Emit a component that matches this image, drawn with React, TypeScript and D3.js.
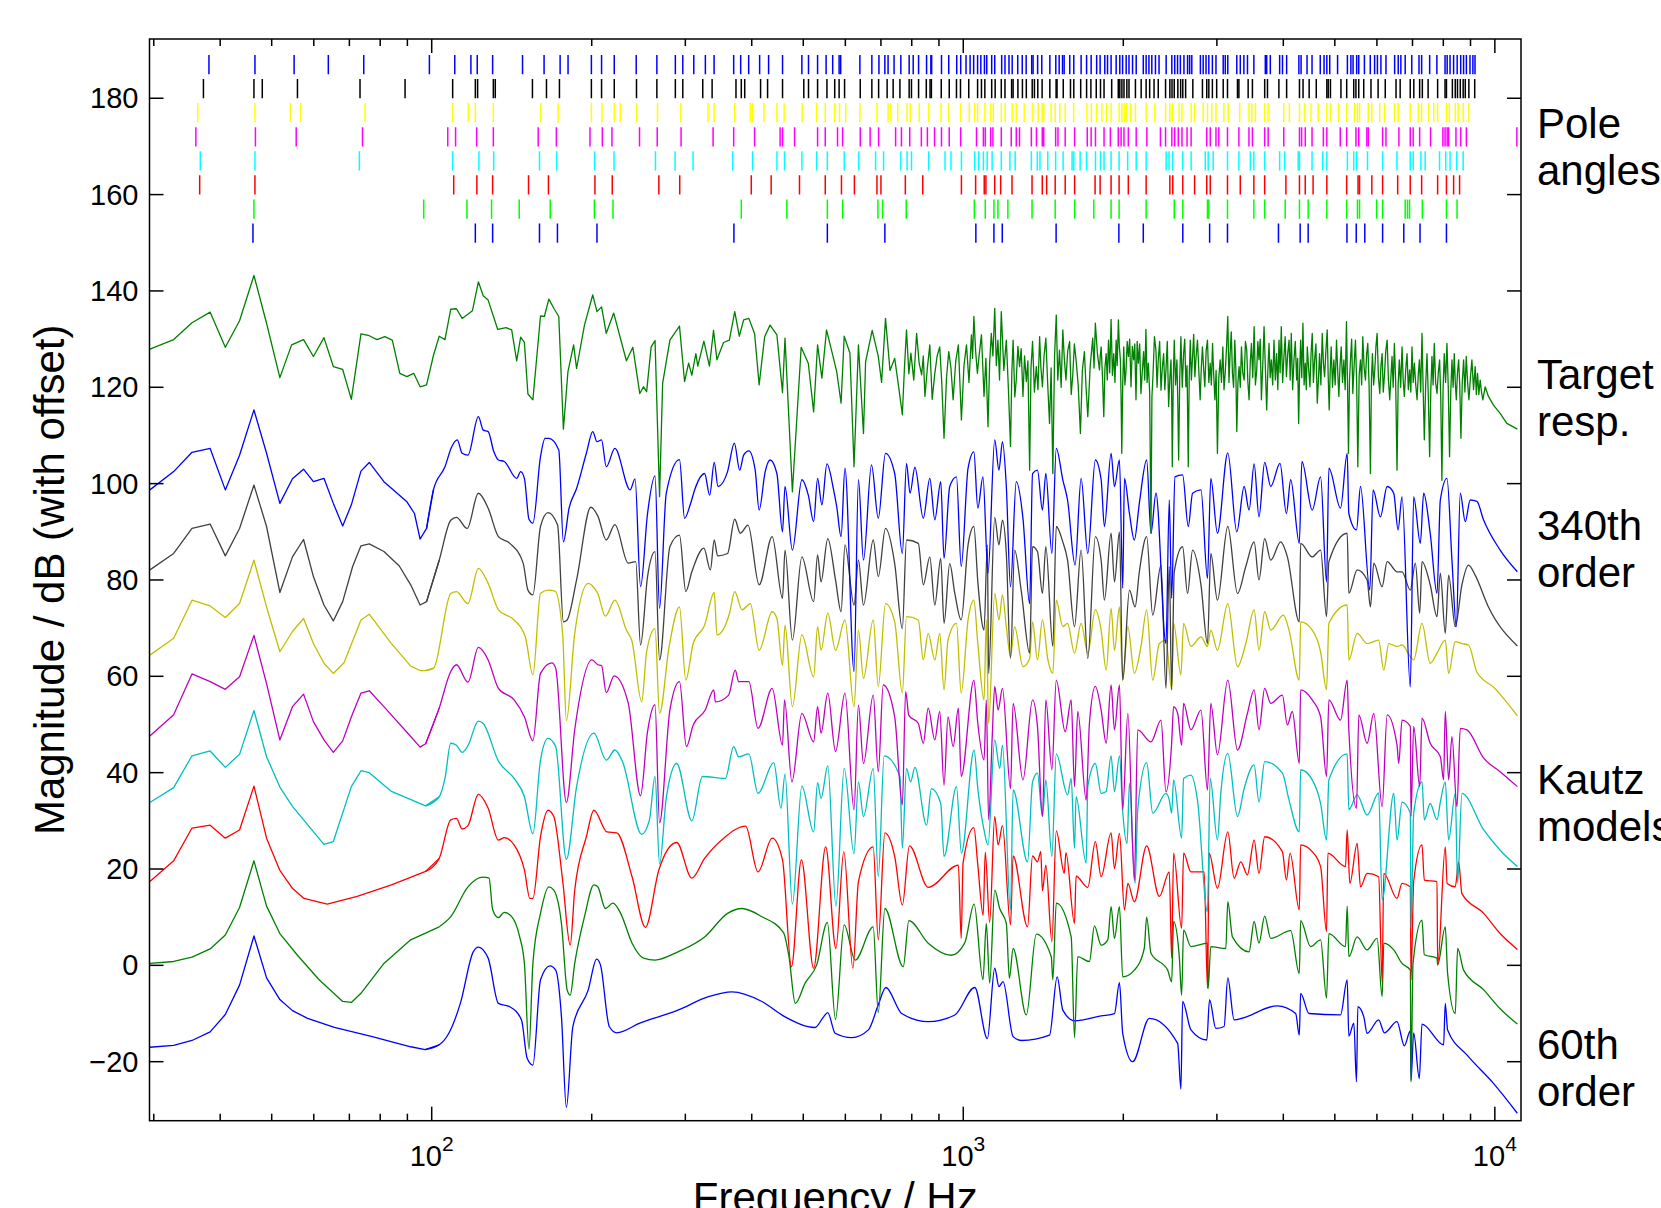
import React, { useEffect, useRef } from "react";
import * as d3 from "d3";

// pole angles in Hz, one row per model, 60th order first (bottom row)
const poles60 = [46.1, 120.8, 130.2, 159.5, 172.4, 204.6, 370.3, 555, 712, 1056, 1142, 1184, 1495, 1962, 2181, 2588, 2907, 3141, 3917, 4303, 4455, 5270, 5486, 5693, 6150, 6741, 7232, 8109];
const poles100 = [46.3, 96.6, 116.5, 129.6, 146.1, 167.1, 202.3, 219.3, 382.3, 465.7, 555, 593, 691, 705, 781, 1049, 1100, 1142, 1162, 1213, 1347, 1489, 1620, 1760, 1897, 1964, 2208, 2494, 2588, 2880, 2897, 3141, 3521, 3690, 4033, 4290, 4455, 4830, 5264, 5515, 5565, 5995, 6150, 6782, 6850, 6912, 7305, 8109, 8490];
const poles140 = [36.6, 46.5, 110, 121.6, 130.2, 152.1, 165.8, 202.8, 218.6, 267.5, 292.8, 399.2, 435.1, 491.9, 550, 590, 624, 688, 700, 778, 839, 992, 1055, 1095, 1103, 1146, 1176, 1235, 1347, 1408, 1435, 1489, 1555, 1620, 1770, 1809, 1897, 1964, 2044, 2208, 2447, 2478, 2588, 2724, 2871, 2915, 3141, 3320, 3521, 3690, 4045, 4290, 4399, 4551, 4830, 5264, 5529, 5565, 5869, 6150, 6565, 6932, 7283, 7805, 8109, 8365, 8584];
const poles180 = [36.7, 46.5, 73.1, 109.5, 122.7, 130.8, 159.5, 171.9, 202.5, 220.3, 263.6, 287, 310.2, 368.3, 401.6, 446.1, 461.1, 497, 530, 555, 597, 636, 684, 708, 763, 784, 799, 861, 924, 948, 992, 1051, 1069, 1091, 1109, 1133, 1179, 1224, 1252, 1343, 1378, 1394, 1442, 1492, 1541, 1602, 1614, 1659, 1706, 1773, 1812, 1840, 1897, 1964, 2038, 2115, 2208, 2408, 2438, 2478, 2588, 2683, 2853, 2889, 2952, 3141, 3300, 3468, 3521, 3690, 3937, 4023, 4266, 4290, 4530, 4744, 4830, 5280, 5427, 5496, 5760, 6150, 6545, 6932, 7020, 7260, 7395, 7870, 8085, 8236, 8480, 8718];
const poles220 = [36.0, 46.6, 55.6, 74.1, 107.2, 110.9, 121.5, 130.6, 158.6, 171.6, 198.5, 209.4, 218.3, 246, 265.6, 294.5, 338.3, 369.9, 405, 452.3, 457.1, 481.6, 532, 550, 580, 593, 640, 668, 693, 746, 765, 793, 834, 856, 883, 910, 941, 989, 1059, 1091, 1100, 1126, 1137, 1179, 1231, 1258, 1276, 1343, 1373, 1408, 1417, 1492, 1507, 1555, 1620, 1711, 1740, 1773, 1840, 1891, 1957, 1981, 2006, 2044, 2115, 2215, 2349, 2402, 2468, 2499, 2538, 2579, 2636, 2683, 2871, 2915, 2988, 3025, 3141, 3300, 3447, 3499, 3690, 3746, 4008, 4290, 4330, 4399, 4530, 4758, 4830, 5119, 5264, 5479, 5546, 5744, 5779, 6150, 6240, 6600, 6932, 7020, 7220, 7570, 7985, 8060, 8134, 8186, 8450, 8625, 8840, 11000];
const poles260 = [36.3, 46.5, 54.2, 56.7, 74.9, 109.5, 117.2, 120.8, 130.6, 160.4, 172.9, 199.7, 209.1, 220.5, 226.3, 242.8, 265.9, 294.1, 331.1, 339.8, 371.5, 397.5, 401.6, 421.7, 446.1, 460.3, 497.6, 530, 550, 573, 585, 601, 639, 688, 722, 731, 753, 784, 795, 826, 861, 908, 938, 989, 1026, 1051, 1064, 1098, 1126, 1139, 1179, 1199, 1236, 1258, 1302, 1351, 1383, 1408, 1417, 1463, 1489, 1519, 1555, 1613, 1709, 1742, 1782, 1823, 1860, 1897, 1964, 1988, 2013, 2031, 2063, 2108, 2208, 2292, 2402, 2447, 2478, 2547, 2579, 2683, 2724, 2827, 2880, 2934, 2988, 3092, 3150, 3311, 3447, 3491, 3545, 3690, 3746, 4008, 4107, 4290, 4385, 4510, 4653, 4830, 4906, 5078, 5264, 5445, 5515, 5565, 5779, 5869, 6071, 6203, 6479, 6580, 6932, 7175, 7283, 7510, 7675, 7805, 8109, 8212, 8425, 8531, 8718, 8936];
const poles300 = [37.2, 46.3, 48.0, 55.9, 73.3, 89.1, 109.5, 120.8, 122, 130.6, 131.7, 154.7, 164.4, 173.9, 199.7, 208.7, 220.5, 242.8, 265.2, 287.3, 296.7, 323.5, 336.9, 373.6, 382.3, 388, 415.6, 428.4, 457.1, 501.2, 511.5, 532, 554, 573, 584, 598, 640, 673, 693, 719, 738, 760, 791, 799, 824, 852, 866, 871, 909, 941, 971, 988, 1024, 1064, 1082, 1098, 1131, 1148, 1179, 1198, 1233, 1241, 1267, 1292, 1314, 1348, 1361, 1381, 1407, 1455, 1495, 1501, 1542, 1591, 1614, 1663, 1706, 1738, 1779, 1812, 1840, 1902, 1957, 1970, 1988, 2006, 2031, 2050, 2108, 2161, 2208, 2242, 2285, 2327, 2402, 2447, 2470, 2494, 2533, 2564, 2588, 2620, 2703, 2818, 2871, 2897, 2942, 2997, 3083, 3141, 3280, 3300, 3435, 3499, 3690, 3735, 3924, 4058, 4290, 4357, 4474, 4614, 4830, 4859, 4906, 5134, 5264, 5427, 5479, 5546, 5667, 5848, 6031, 6221, 6518, 6636, 6932, 7040, 7220, 7305, 7490, 7805, 8060, 8109, 8320, 8425, 8506, 8610, 8718, 8798, 8936, 9165];
const poles340 = [38.1, 46.5, 55.1, 63.9, 74.5, 99.0, 110.5, 118.5, 121.8, 130.2, 148.2, 162.7, 174.4, 180.5, 199.7, 208.7, 220.5, 242.5, 265.2, 287.3, 296.7, 311.2, 327.2, 339.8, 369.9, 381.3, 394.7, 413.9, 430.3, 457.1, 497, 511.5, 532, 552, 568, 584, 588, 639, 673, 694, 712, 722, 741, 763, 791, 805, 824, 853, 869, 872, 910, 939, 972, 989, 1012, 1030, 1046, 1064, 1079, 1096, 1107, 1131, 1146, 1181, 1198, 1219, 1236, 1266, 1291, 1313, 1345, 1353, 1380, 1405, 1455, 1493, 1515, 1537, 1548, 1586, 1614, 1666, 1706, 1740, 1782, 1809, 1846, 1868, 1897, 1939, 1970, 1994, 2025, 2050, 2082, 2115, 2181, 2208, 2235, 2263, 2299, 2335, 2408, 2468, 2499, 2530, 2561, 2601, 2642, 2666, 2691, 2793, 2827, 2862, 2897, 2942, 2988, 3083, 3111, 3145, 3270, 3320, 3372, 3425, 3521, 3700, 3722, 3781, 3937, 3986, 4058, 4279, 4320, 4433, 4530, 4694, 4772, 4830, 4891, 5060, 5280, 5360, 5411, 5496, 5546, 5684, 5830, 5940, 6013, 6105, 6240, 6479, 6580, 6656, 6782, 6978, 7200, 7283, 7540, 7780, 8060, 8134, 8236, 8365, 8495, 8625, 8734, 8840, 8980, 9093, 9177];

const poleRows = [poles60, poles100, poles140, poles180, poles220, poles260, poles300, poles340];
const poleColors = ["#0000ff", "#00ff00", "#ff0000", "#00ffff", "#ff00ff", "#ffff00", "#000000", "#0000ff"];

// magnitude responses [Hz, dB] (offsets already included)
const kautz60 = [[29.5,-17.0],[32.7,-16.6],[35.4,-15.6],[38.3,-13.8],[40.9,-10.2],[43.5,-4.1],[46.3,6.1],[48.9,-2.6],[51.8,-7.1],[54.7,-9.4],[58.4,-11.0],[65.6,-12.9],[77.3,-14.8],[91.3,-16.9],[97.2,-17.5],[103.3,-16.5],[107.7,-14.1],[113.2,-7.9],[119.7,2.8],[122.4,3.8],[127.7,1.5],[133.5,-7.9],[140.3,-8.6],[147.5,-11.3],[151.2,-19.3],[155,-20.7],[160.2,-3.0],[166.9,-0.1],[171.1,-1.0],[175.4,-10.6],[179.2,-29.5],[184.3,-12.7],[197,-5.1],[204.3,1.3],[207.7,0.1],[215.8,-12.7],[222.9,-14.0],[246.3,-12.0],[290.5,-9.3],[331.6,-6.5],[367,-5.5],[418,-7.5],[462,-10.7],[526,-12.9],[546,-10.7],[556,-9.8],[574,-14.1],[617,-15.0],[663,-13.4],[692,-8.2],[715,-4.6],[766,-10.0],[859,-11.7],[964,-10.3],[1051,-4.6],[1110,-15.2],[1146,-0.6],[1167,-4.4],[1188,-3.4],[1241,-14.8],[1286,-15.6],[1453,-14.5],[1502,-2.4],[1539,-9.3],[1619,-11.5],[1817,-10.5],[1925,-10.0],[1967,-3.6],[1995,-14.1],[2083,-20.0],[2239,-11.0],[2531,-16.2],[2567,-25.7],[2586,-7.5],[2681,-13.4],[2872,-15.5],[2906,-7.1],[2986,-13.1],[3095,-12.7],[3145,-2.6],[3232,-11.3],[3897,-8.4],[4220,-10.0],[4287,-14.5],[4312,-5.8],[4470,-10.0],[5125,-10.3],[5275,-3.0],[5313,-14.7],[5429,-12.0],[5492,-24.2],[5524,-8.6],[5669,-10.7],[5751,-14.1],[6046,-11.3],[6197,-14.0],[6546,-11.7],[6757,-16.7],[6934,-13.6],[6955,-23.8],[7036,-14.0],[7210,-23.5],[7294,-12.2],[8010,-16.5],[8068,-7.9],[8150,-13.4],[8860,-18.6],[9941,-24.5],[11025,-30.7]];

const kautz100 = [[29.5,0.4],[32.7,0.8],[35.4,1.7],[38.3,3.4],[40.9,6.3],[43.5,12.0],[46.3,21.7],[48.9,12.3],[51.8,6.6],[55.8,2.2],[61.4,-3.0],[68.0,-7.5],[70.6,-7.7],[73.6,-5.8],[81.3,0.4],[91.3,5.3],[103.3,8.0],[108.6,10.1],[117,16.3],[125,18.3],[128.2,18.1],[130.2,11.6],[133.5,9.9],[136.9,11.0],[141.4,10.1],[146.3,6.0],[149.4,0.4],[152.4,-17.4],[155,0.4],[160.2,10.8],[166.1,16.3],[169.7,15.6],[175.4,8.7],[179.8,-5.1],[182.2,-6.2],[185.8,0.4],[193.8,10.1],[201.9,16.7],[205.3,16.3],[212.2,11.8],[219.3,12.9],[226.7,10.8],[238.2,4.6],[250.3,1.5],[263.1,1.1],[290.5,2.8],[327,6.0],[360.2,10.8],[383.5,11.8],[418,10.1],[459,6.8],[470,1.8],[483,-7.9],[504,-3.7],[530,0.1],[555,8.9],[575,-11.2],[597,8.4],[626,1.1],[677,8.0],[692,-9.8],[712,11.8],[771,-0.3],[790,9.3],[859,4.6],[950,2.1],[1006,4.6],[1048,12.7],[1089,-3.0],[1105,8.7],[1121,-3.7],[1146,15.6],[1171,11.8],[1205,8.7],[1221,-2.7],[1241,3.5],[1314,-10.3],[1372,6.5],[1464,1.8],[1474,-3.0],[1496,12.9],[1596,5.9],[1619,-15.0],[1642,1.8],[1727,0.8],[1765,8.2],[1817,4.2],[1870,5.3],[1897,12.2],[1925,5.6],[1967,12.2],[1995,-2.4],[2098,-1.0],[2190,3.5],[2213,10.0],[2255,2.5],[2424,-1.0],[2466,-3.4],[2487,9.1],[2549,1.8],[2575,-6.2],[2597,7.3],[2681,3.9],[2880,4.6],[2888,-4.8],[2922,3.9],[3118,3.5],[3145,13.2],[3209,5.9],[3449,2.8],[3525,9.1],[3600,4.6],[3690,10.2],[3788,5.6],[4130,7.2],[4287,-1.7],[4312,9.3],[4502,3.9],[4701,5.3],[4824,-6.8],[4873,6.6],[5237,3.9],[5275,12.3],[5313,1.8],[5508,5.9],[5751,3.2],[6005,5.6],[6137,-6.5],[6181,4.6],[6454,3.2],[6690,0.4],[6934,-1.0],[6955,-24.2],[7016,0.4],[7294,9.4],[7368,2.2],[7784,1.5],[7806,0.1],[8068,8.0],[8150,-1.7],[8425,-10.0],[8511,3.5],[8735,-1.0],[9530,-5.1],[10233,-9.0],[11025,-12.2]];

const kautz140 = [[29.5,17.4],[32.7,21.7],[35.4,28.5],[38.3,29.1],[40.9,26.4],[43.5,28.1],[46.3,37.2],[48.9,26.4],[51.8,19.7],[54.7,16.0],[57.5,13.9],[63.6,12.7],[72.4,14.3],[84,16.7],[97.4,19.5],[103.3,22.2],[108.6,30.2],[111.3,30.5],[114.1,28.3],[117,29.0],[122.4,35.5],[127.7,32.6],[133.5,26.0],[136.9,26.5],[142.9,25.0],[149.4,19.8],[153,13.9],[155,13.9],[160.2,26.7],[165.5,32.2],[169.7,30.9],[176.3,17.7],[182.2,4.2],[185.8,15.6],[195.4,26.7],[201.9,32.2],[213.6,27.7],[222.9,27.5],[238.2,18.4],[252.4,7.9],[267.5,19.8],[289,25.5],[308.6,18.1],[326.1,22.2],[354.3,26.4],[389.5,28.9],[411,19.4],[437,26.4],[457,21.9],[475,-0.3],[496,21.9],[523,-0.6],[551,24.6],[576,3.5],[596,23.6],[620,-0.6],[635,17.4],[677,24.6],[692,5.3],[712,27.5],[743,22.6],[768,12.5],[792,24.8],[859,16.2],[979,20.8],[991,5.6],[999,21.2],[1047,28.6],[1065,20.8],[1090,10.4],[1100,23.5],[1121,8.9],[1146,30.9],[1163,25.0],[1185,29.0],[1227,8.4],[1241,22.7],[1321,8.0],[1350,22.7],[1379,21.5],[1399,23.6],[1409,15.5],[1430,20.8],[1468,4.9],[1496,27.9],[1549,19.1],[1560,23.4],[1619,8.7],[1630,18.5],[1715,16.2],[1772,25.7],[1817,18.4],[1897,27.5],[1925,20.1],[1967,27.4],[2010,11.5],[2040,17.0],[2098,13.2],[2213,24.8],[2338,14.3],[2441,19.4],[2466,1.5],[2487,23.3],[2575,7.7],[2597,23.3],[2681,19.4],[2839,19.4],[2880,-4.8],[2901,23.3],[3007,16.0],[3145,27.7],[3232,18.1],[3327,21.5],[3424,18.8],[3525,26.0],[3600,19.1],[3690,26.7],[3984,23.6],[4054,17.7],[4119,23.3],[4287,11.5],[4312,25.0],[4534,23.6],[4701,20.5],[4824,7.0],[4852,23.3],[5237,20.5],[5275,28.1],[5336,17.0],[5508,25.3],[5588,16.3],[5751,19.1],[6046,18.4],[6137,-3.4],[6181,19.1],[6546,13.9],[6690,17.0],[6934,16.3],[6955,-3.0],[7036,17.4],[7294,25.0],[7368,17.7],[7784,17.4],[7806,0.1],[8068,24.6],[8134,17.0],[8425,16.3],[8548,21.5],[8671,14.9],[9530,10.8],[10233,6.6],[11025,3.3]];

const kautz180 = [[29.5,33.8],[32.7,36.9],[35.4,43.5],[38.3,44.5],[40.9,41.1],[43.5,43.8],[46.3,52.9],[48.9,43.3],[51.8,37.0],[54.7,33.0],[62.7,25.1],[65.3,25.7],[70.6,37.1],[73.6,40.4],[76.3,40.0],[84,36.1],[97.4,33.1],[103.3,35.0],[105.9,38.8],[108.6,46.1],[111.3,45.7],[114.1,44.2],[117,45.6],[122.4,50.7],[125,50.2],[133.5,42.4],[142.9,38.8],[149.4,35.0],[155,27.3],[160.2,42.6],[165.5,47.1],[171.1,45.4],[179.2,22.0],[187.3,37.1],[201.9,48.2],[213,42.6],[221.1,44.7],[228.5,42.3],[248.3,27.2],[256.8,30.2],[263.1,39.2],[268.3,21.0],[276.2,34.7],[289,41.9],[308.6,30.0],[323,39.2],[356.7,38.8],[370,45.4],[378,43.3],[395,43.9],[411,35.7],[440,42.1],[454,32.6],[462,39.7],[477,12.7],[497,37.2],[523,27.7],[532,37.9],[540,34.7],[556,41.4],[576,12.3],[597,40.9],[623,23.2],[635,38.1],[649,30.9],[677,40.9],[692,18.4],[710,43.5],[760,39.2],[768,24.3],[782,40.9],[796,38.1],[811,41.1],[853,29.1],[871,36.7],[907,33.6],[920,22.6],[971,37.1],[992,23.3],[1048,44.7],[1065,36.7],[1094,28.1],[1113,25.0],[1146,46.8],[1171,40.9],[1185,45.7],[1227,11.5],[1241,36.4],[1321,21.5],[1350,38.1],[1379,39.9],[1409,30.9],[1430,38.5],[1468,22.6],[1496,43.9],[1571,35.4],[1596,38.8],[1619,24.3],[1630,35.0],[1703,21.2],[1715,37.1],[1772,41.9],[1817,35.7],[1857,36.1],[1897,43.5],[1925,36.1],[1967,43.5],[1995,31.9],[2033,25.3],[2054,37.8],[2105,17.0],[2129,32.3],[2213,42.1],[2272,31.6],[2406,35.7],[2441,34.3],[2466,31.6],[2487,38.5],[2575,26.4],[2597,38.8],[2681,39.5],[2758,34.3],[2880,11.1],[2914,38.8],[3007,26.0],[3051,35.7],[3145,44.0],[3280,30.9],[3376,36.7],[3525,41.6],[3600,33.9],[3690,42.3],[3984,39.9],[4101,34.3],[4287,27.7],[4312,40.6],[4534,38.5],[4701,33.6],[4824,26.0],[4873,38.5],[5275,43.9],[5313,32.3],[5508,35.4],[5751,31.2],[6046,35.8],[6137,13.6],[6454,35.7],[6546,26.0],[6690,33.9],[6934,31.6],[6955,7.7],[7036,31.6],[7294,38.1],[7368,30.2],[7558,33.6],[7784,30.2],[7897,33.9],[8068,38.1],[8185,26.0],[8425,35.7],[8511,17.0],[8671,35.7],[9530,28.1],[10233,23.9],[11025,20.5]];

const kautz220 = [[29.5,47.6],[32.7,52.0],[35.4,60.5],[38.3,58.9],[40.9,57.3],[43.5,59.9],[46.3,68.5],[48.9,58.5],[51.8,46.8],[54.7,53.7],[57.4,56.3],[59.9,50.6],[62.7,46.8],[65.3,44.2],[68,46.6],[71,52.3],[73.6,56.5],[76.3,57.0],[81.3,53.7],[91.3,47.5],[95.1,45.3],[97.4,46.0],[103.3,53.4],[108.6,61.0],[111.3,62.4],[117,58.8],[122.4,66.0],[127.7,63.4],[133.5,57.5],[142.9,55.1],[149.4,51.6],[155,46.6],[160.2,60.6],[168.3,62.8],[171.1,61.7],[179.2,33.8],[185.8,48.9],[200.2,63.4],[205.3,62.4],[208.7,62.2],[213,56.6],[220.4,60.1],[234.3,54.4],[247.1,35.2],[254.7,48.5],[263.1,54.1],[268.3,29.6],[280.6,53.0],[292.5,58.9],[301.4,45.4],[310.4,49.9],[327,53.0],[339.3,57.2],[341.7,54.7],[361.9,56.1],[372.4,61.3],[378,58.9],[395,58.9],[411,49.2],[437,57.5],[457,45.7],[461,55.1],[476,38.1],[497,52.3],[523,46.4],[532,53.7],[540,48.2],[556,56.5],[575,44.4],[599,56.5],[623,32.3],[635,54.0],[649,41.9],[677,56.1],[692,40.2],[707,58.2],[743,51.6],[768,33.3],[779,56.8],[790,51.9],[823,50.2],[841,46.1],[859,53.4],[884,46.8],[903,52.7],[920,37.4],[936,51.6],[957,45.4],[979,53.4],[991,39.2],[1047,59.2],[1065,50.2],[1094,42.6],[1105,55.1],[1116,30.2],[1133,46.8],[1146,57.9],[1163,53.0],[1185,57.5],[1227,36.7],[1241,54.4],[1295,38.5],[1350,55.1],[1379,49.6],[1409,30.9],[1430,55.1],[1468,40.6],[1496,59.2],[1555,48.5],[1596,55.1],[1619,37.1],[1642,52.7],[1703,34.3],[1727,50.2],[1772,57.9],[1817,53.0],[1857,46.1],[1897,58.2],[1925,48.9],[1967,58.2],[1995,32.3],[2040,52.3],[2098,17.7],[2129,48.9],[2255,46.4],[2355,50.9],[2406,36.0],[2466,46.1],[2487,53.7],[2531,52.3],[2575,45.7],[2597,54.4],[2681,48.9],[2800,53.0],[2880,36.4],[2922,54.4],[3007,43.7],[3145,59.2],[3280,44.7],[3424,52.3],[3525,57.2],[3600,48.9],[3690,57.5],[3788,54.4],[3984,56.1],[4071,49.9],[4159,52.7],[4287,41.9],[4312,57.2],[4534,55.1],[4701,51.6],[4824,39.2],[4873,55.1],[5125,50.9],[5275,59.2],[5313,48.9],[5492,32.6],[5548,52.0],[5751,46.1],[5920,52.3],[6137,32.9],[6272,52.0],[6546,45.7],[6595,41.9],[6690,50.9],[6934,49.6],[6955,30.9],[7036,49.6],[7222,37.1],[7294,51.3],[7558,46.1],[7897,43.3],[8010,38.5],[8068,52.7],[8185,38.5],[8305,47.5],[8486,32.9],[8610,49.2],[8860,48.9],[9530,43.0],[10233,40.2],[11025,37.1]];

const kautz260 = [[29.5,64.4],[32.7,67.9],[35.4,75.8],[38.3,74.6],[40.9,72.2],[43.5,75.1],[46.3,84.1],[48.9,74.4],[51.8,65.1],[54.7,69.3],[57.4,72.0],[59.9,66.8],[62.7,62.7],[65.3,60.6],[68.4,62.8],[73.6,71.7],[76.3,72.9],[84,66.8],[91.3,62.1],[95.1,61.2],[97.4,61.2],[100.8,61.7],[108.6,77.2],[111.3,77.6],[117,75.1],[122.4,82.4],[127.7,79.3],[133.5,73.8],[142.9,71.7],[150,68.2],[155,60.3],[160.2,77.2],[165.5,77.9],[170.6,77.7],[176.3,68.9],[179.2,50.8],[185.8,68.9],[197,79.3],[201.3,78.6],[205.3,77.2],[212.2,72.5],[221.1,75.8],[232.4,69.6],[238.2,67.2],[248.3,54.7],[253.7,65.1],[263.1,69.9],[268.3,52.3],[279.6,66.1],[292.5,74.4],[300.6,59.2],[310.4,66.8],[326.1,70.6],[340,77.4],[344,68.6],[363.3,73.1],[371.6,77.6],[383.5,73.8],[397.5,75.1],[413,65.4],[437,73.4],[446,72.0],[457,62.3],[462,70.6],[477,53.7],[497,68.6],[523,59.9],[532,70.3],[540,65.4],[556,73.1],[575,65.4],[599,71.7],[623,53.7],[635,69.6],[649,59.6],[677,71.7],[692,57.9],[714,75.1],[743,71.3],[768,56.5],[782,72.4],[823,71.7],[841,63.4],[859,68.9],[884,63.4],[903,68.9],[920,57.2],[936,67.5],[971,71.0],[991,56.5],[1021,71.7],[1047,75.8],[1065,66.8],[1094,55.1],[1105,71.7],[1116,50.2],[1146,77.2],[1167,71.7],[1185,76.9],[1205,70.3],[1227,64.1],[1249,70.3],[1295,62.0],[1333,63.7],[1350,71.3],[1379,63.4],[1409,71.7],[1443,63.4],[1474,60.6],[1496,75.8],[1539,70.3],[1571,71.0],[1619,64.8],[1666,71.0],[1715,64.8],[1772,73.8],[1817,69.6],[1857,61.3],[1897,74.1],[1925,65.4],[1967,74.4],[1995,59.2],[2040,70.3],[2098,60.6],[2159,66.2],[2213,73.8],[2272,59.2],[2338,66.8],[2406,67.5],[2466,57.2],[2487,71.0],[2567,60.3],[2597,71.0],[2681,66.2],[2800,68.2],[2880,66.2],[2922,69.6],[3007,65.4],[3145,75.1],[3280,62.0],[3400,66.8],[3525,73.8],[3600,65.4],[3690,73.4],[3788,69.6],[4001,72.7],[4101,69.6],[4287,59.2],[4312,71.3],[4534,69.6],[4701,65.1],[4824,57.2],[4873,71.0],[5275,74.8],[5313,63.4],[5508,68.9],[5751,66.8],[6046,67.5],[6181,61.3],[6317,66.8],[6546,66.2],[6690,66.5],[6934,64.1],[7036,63.4],[7294,71.0],[7558,62.7],[7784,64.8],[8068,67.5],[8185,60.6],[8425,67.2],[8671,66.8],[8923,66.5],[9252,60.9],[10000,57.5],[11025,51.8]];

const kautz300 = [[29.5,82.1],[32.7,85.5],[35.4,90.7],[38.3,91.6],[40.9,85.0],[43.5,90.7],[46.3,99.7],[48.9,91.1],[51.8,77.4],[54.7,84.8],[57.4,88.4],[59.9,80.7],[62.7,74.8],[65.3,71.5],[68,75.5],[71,82.8],[73.6,87.1],[76.3,87.5],[81.3,85.9],[86.9,82.9],[91.3,79.0],[95.1,74.8],[97.8,75.5],[103.3,84.1],[108.6,92.4],[111.3,93.0],[116.6,90.7],[122.4,98.0],[127.7,94.9],[133.5,89.0],[140.3,87.6],[148.6,83.5],[151.7,77.9],[155,76.9],[160.2,91.1],[165.5,94.0],[172.5,91.4],[176.9,71.3],[179.8,71.7],[187.3,80.0],[199.2,95.1],[205.3,93.3],[213,88.3],[221.1,91.5],[234.3,83.5],[242,83.8],[247.1,66.5],[254.7,80.7],[263.1,85.9],[268.3,63.4],[280.6,86.9],[292.5,89.3],[300.6,77.6],[308.6,81.7],[325.1,86.6],[334.4,82.1],[340,88.3],[345,85.0],[360.2,85.5],[371.6,92.6],[380.6,89.7],[393.6,91.4],[413,79.0],[437,89.0],[457,76.2],[462,86.2],[477,67.5],[497,84.8],[523,75.5],[532,85.2],[540,79.6],[556,88.6],[575,80.0],[589,73.4],[599,87.3],[623,74.8],[635,84.1],[649,74.8],[677,88.3],[692,80.7],[714,90.7],[743,83.4],[768,69.9],[782,88.3],[823,87.6],[841,79.0],[865,84.8],[884,74.8],[907,84.5],[920,71.0],[943,83.4],[964,77.2],[991,71.7],[1021,87.3],[1047,91.1],[1065,79.6],[1094,69.6],[1110,87.3],[1116,60.6],[1146,93.0],[1167,87.3],[1185,92.4],[1205,85.5],[1227,63.7],[1249,86.2],[1286,77.6],[1333,64.8],[1350,86.9],[1379,85.9],[1409,77.2],[1430,86.9],[1474,66.2],[1496,91.1],[1539,87.9],[1571,84.1],[1619,70.3],[1666,86.2],[1715,63.7],[1772,89.0],[1817,84.1],[1843,75.8],[1897,89.7],[1925,79.6],[1967,90.0],[1995,59.2],[2054,77.9],[2105,74.4],[2144,81.7],[2213,89.0],[2272,72.7],[2355,83.1],[2406,57.5],[2441,82.8],[2466,57.2],[2494,81.7],[2586,86.9],[2642,77.2],[2700,86.2],[2800,79.0],[2880,66.8],[2922,85.5],[3007,75.8],[3145,91.1],[3280,77.2],[3400,82.8],[3525,87.9],[3600,80.0],[3690,88.6],[3788,84.1],[3955,87.9],[4071,84.8],[4287,71.3],[4312,87.6],[4534,84.8],[4701,86.2],[4824,72.4],[4873,83.8],[5275,89.7],[5313,77.2],[5508,82.1],[5751,80.0],[5834,74.4],[5920,83.5],[6137,78.6],[6272,83.8],[6546,81.7],[6690,81.7],[6934,77.9],[7087,83.5],[7222,73.1],[7294,83.8],[7558,79.0],[7784,72.4],[7897,81.4],[8068,68.9],[8185,81.0],[8425,70.3],[8671,79.0],[8923,83.1],[9183,81.0],[9727,74.4],[11025,66.3]];

const kautz340 = [[29.5,98.7],[32.7,102.5],[35.4,106.5],[38.3,107.3],[40.9,98.7],[43.5,105.9],[46.3,115.3],[48.9,106.3],[51.8,95.9],[54.7,101.0],[57.4,103.0],[59.9,100.4],[62.7,101.1],[65.3,95.9],[68,91.2],[70.6,95.6],[73.6,102.6],[76.3,104.4],[81.3,100.4],[89.7,96.3],[92.8,93.8],[95.1,88.5],[97.8,90.7],[100.8,98.8],[105.9,103.5],[109.1,107.7],[111.7,109.1],[114.1,106.3],[117,105.9],[122.4,113.9],[125,111.1],[127.7,110.8],[130.9,106.6],[133.5,104.9],[136.9,104.6],[144.5,101.1],[147,102.5],[149.4,101.1],[152.4,92.6],[155,91.8],[160.2,105.6],[163.4,109.4],[166.1,109.4],[173.4,107.0],[176.9,87.9],[181.3,94.9],[187.3,99.0],[195.4,106.3],[200.9,110.8],[204.6,108.7],[208.7,109.1],[213,103.5],[221.1,107.3],[236.2,98.7],[241.3,101.0],[247.1,78.6],[254.7,93.8],[263.1,101.6],[268.3,74.1],[276.2,98.0],[292.5,105.0],[299,92.8],[306.4,95.6],[313,99.0],[326.1,102.1],[333.4,97.6],[340,104.4],[345.6,99.4],[360.2,102.5],[371,108.4],[379.6,102.8],[386.2,105.9],[395,106.8],[406,102.8],[413,94.5],[424,102.5],[433,104.9],[446,102.1],[457,90.0],[462,99.4],[477,86.2],[497,100.8],[511,97.6],[523,92.1],[532,101.1],[542,95.6],[554,104.1],[570,98.8],[578,95.2],[589,89.0],[599,103.2],[623,61.0],[635,100.8],[649,84.1],[672,103.9],[692,92.8],[714,106.3],[743,102.1],[768,85.5],[782,104.2],[794,98.0],[811,103.4],[841,92.8],[865,101.1],[884,92.5],[907,100.4],[920,84.5],[943,99.4],[971,101.4],[991,82.8],[1021,103.2],[1047,106.6],[1065,94.9],[1089,101.4],[1113,81.4],[1146,109.1],[1167,102.8],[1185,108.7],[1205,99.4],[1227,78.6],[1258,100.4],[1295,92.8],[1333,75.1],[1350,102.1],[1379,102.8],[1409,94.5],[1430,102.1],[1468,85.5],[1496,107.3],[1539,100.8],[1571,96.6],[1623,83.1],[1666,101.1],[1715,85.5],[1772,104.9],[1817,100.8],[1843,91.1],[1897,106.3],[1925,99.4],[1967,104.9],[1995,78.3],[2010,101.1],[2054,93.8],[2098,88.3],[2144,95.9],[2213,104.9],[2255,89.7],[2304,98.0],[2406,66.8],[2441,96.6],[2466,76.2],[2502,101.4],[2586,101.8],[2650,91.1],[2700,98.0],[2800,98.7],[2880,80.3],[2922,101.1],[3007,89.7],[3145,106.4],[3270,90.0],[3376,99.4],[3449,94.5],[3525,104.1],[3600,93.1],[3690,104.4],[3788,99.4],[3943,104.2],[4054,93.8],[4130,100.8],[4287,87.6],[4335,104.6],[4534,94.5],[4701,101.4],[4824,79.6],[4873,103.2],[5125,94.9],[5275,106.3],[5313,93.8],[5492,90.4],[5588,99.4],[5818,77.9],[5902,98.7],[6091,93.1],[6272,99.4],[6454,98.0],[6576,90.4],[6690,97.3],[6934,57.8],[7036,97.3],[7242,87.6],[7347,98.0],[7558,89.7],[7784,77.2],[7897,96.6],[8127,101.1],[8305,84.1],[8463,70.3],[8610,98.0],[8797,92.1],[8988,96.6],[9252,96.3],[9521,92.5],[10233,86.2],[11025,81.7]];

const target = [[29.5,127.9],[32.7,129.9],[35.4,133.4],[38.3,135.6],[40.9,128.3],[43.5,133.8],[46.3,143.2],[48.9,133.3],[51.8,122.0],[54.5,128.8],[57.4,129.9],[59.9,126.4],[62.7,130.3],[65.3,124.3],[68,123.7],[70.6,117.5],[73.6,131.1],[76.3,130.7],[78.9,129.9],[81.6,130.5],[84.3,129.8],[87.1,122.9],[89.8,122.2],[92.5,122.9],[95.1,120.1],[97.8,120.5],[100.8,126.7],[103.3,130.6],[105.9,129.9],[108.6,136.2],[111.3,136.3],[114.1,134.3],[119.3,135.9],[122.4,141.9],[125,139.0],[127.7,138.1],[133.1,132.0],[138,132.4],[141.4,131.9],[144.5,125.5],[147,130.4],[149.4,129.3],[151.7,118.6],[155,117.4],[160.2,134.8],[162.9,134.7],[166.1,138.3],[169.7,136.4],[173.4,134.7],[176.9,111.3],[180.4,123.2],[184.9,128.8],[187.3,123.9],[193.8,132.9],[200.9,139.2],[204.6,135.7],[208.7,136.7],[213,131.2],[220,135.4],[232.4,125.5],[239,128.3],[246.3,118.7],[250.3,120.1],[253.7,119.1],[258.7,128.4],[263.1,129.7],[268.3,97.3],[271.9,120.8],[280.6,129.8],[292.5,132.7],[299,121.2],[304.3,125.0],[308.6,122.5],[314,127.0],[316.6,124.4],[325.1,129.6],[333,124.4],[339,131.8],[344,125.7],[354,129.3],[363,129.8],[371.6,135.7],[379,130.6],[386.2,134.0],[395,134.3],[405,131.1],[413,120.5],[423,130.5],[433,132.9],[446,130.9],[457,118.9],[462,130.2],[477,98.3],[495.5,128.3],[511,125.0],[523,114.9],[532,128.8],[542,121.9],[553,131.9],[570,126.0],[578,123.2],[589,116.7],[597,130.6],[612,127.1],[623,103.5],[635,128.8],[649,110.4],[655,125.3],[674,131.8],[692,126.4],[702,121.0],[714,134.3],[728,123.5],[743,126.0],[755,120.5],[768,114.3],[775,124.0],[782,131.9],[790,122.8],[797,127.1],[807,121.5],[817,131.2],[826,125.0],[835,122.6],[841,126.5],[847,118.1],[856,124.0],[865,128.8],[874,117.5],[884,122.9],[893,126.5],[903,128.4],[911,121.0],[920,109.4],[930,122.0],[939,127.4],[948,124.0],[957,117.4],[968,125.5],[979,128.8],[985,121.5],[992,113.2],[1003,124.5],[1014,128.8],[1025,121.0],[1036,130.9],[1041,126.0],[1047,134.7],[1055,127.5],[1063,122.9],[1072,127.0],[1082,130.9],[1088,124.5],[1094,118.1],[1103,126.0],[1113,111.8],[1121,125.0],[1129,131.2],[1137,126.5],[1146,136.4],[1154,124.5],[1162,129.8],[1170,121.5],[1179,135.7],[1192,123.5],[1205,129.8],[1216,119.5],[1227,107.7],[1234,123.0],[1241,129.8],[1250,118.0],[1258,121.5],[1267,128.5],[1276,124.3],[1285,128.0],[1295,118.1],[1304,126.5],[1314,121.2],[1323,125.5],[1333,102.8],[1341,124.0],[1350,129.5],[1361,119.0],[1372,124.3],[1382,119.5],[1392,130.5],[1400,124.0],[1409,120.1],[1419,126.5],[1430,130.2],[1441,121.0],[1453,112.5],[1463,124.0],[1474,102.1],[1485,126.5],[1496,135.0],[1506,121.5],[1517,127.7],[1528,120.0],[1539,131.9],[1549,126.0],[1560,121.5],[1572,127.5],[1585,129.5],[1596,118.5],[1607,122.6],[1618,129.0],[1630,125.7],[1645,120.5],[1661,110.4],[1675,123.5],[1690,127.4],[1702,120.0],[1715,113.9],[1733,124.5],[1752,130.2],[1762,124.0],[1772,133.3],[1788,127.0],[1804,123.6],[1810,126.5],[1817,128.4],[1828,122.0],[1838,113.9],[1847,124.0],[1857,127.0],[1866,121.5],[1876,129.8],[1886,123.0],[1897,134.1],[1908,122.5],[1919,127.0],[1929,121.0],[1939,129.8],[1948,124.5],[1958,134.0],[1966,128.5],[1975,125.7],[1981,118.0],[1987,106.3],[1995,120.5],[2004,128.4],[2014,120.5],[2024,123.6],[2034,129.5],[2045,126.4],[2056,130.0],[2068,120.1],[2080,128.5],[2092,125.7],[2102,129.0],[2113,117.4],[2124,129.5],[2135,125.0],[2147,129.0],[2159,118.7],[2171,123.0],[2184,127.4],[2195,121.5],[2206,132.0],[2217,121.0],[2229,125.0],[2242,119.0],[2255,89.7],[2264,118.0],[2274,122.2],[2289,130.5],[2304,127.7],[2315,120.0],[2327,125.7],[2341,129.5],[2355,119.4],[2368,124.0],[2382,127.0],[2394,119.5],[2406,123.6],[2420,129.5],[2434,116.0],[2446,121.5],[2459,125.7],[2466,118.5],[2473,103.5],[2483,121.0],[2494,129.8],[2508,120.5],[2523,125.7],[2532,117.5],[2542,104.9],[2554,122.0],[2567,130.5],[2582,120.0],[2597,127.0],[2610,130.0],[2623,120.1],[2636,124.5],[2650,103.5],[2661,122.0],[2673,129.8],[2686,121.5],[2700,126.4],[2713,131.0],[2727,122.2],[2742,126.5],[2758,129.8],[2774,123.5],[2790,117.4],[2804,124.0],[2818,128.4],[2832,124.0],[2847,120.1],[2863,127.5],[2880,129.8],[2897,121.0],[2914,125.0],[2929,120.5],[2944,129.1],[2959,122.5],[2974,117.4],[2990,123.5],[3007,106.3],[3025,122.0],[3043,125.7],[3060,121.0],[3078,128.4],[3094,119.5],[3110,122.9],[3127,128.0],[3145,134.7],[3161,121.0],[3177,127.0],[3193,131.5],[3209,122.9],[3225,120.0],[3242,129.8],[3256,124.0],[3270,110.8],[3286,121.0],[3303,124.3],[3320,120.0],[3337,128.4],[3356,123.0],[3376,121.5],[3395,129.5],[3414,127.7],[3431,121.0],[3449,117.4],[3466,125.0],[3484,129.1],[3504,122.0],[3525,132.6],[3545,120.5],[3565,123.6],[3582,129.5],[3600,125.7],[3619,130.0],[3638,117.4],[3659,124.5],[3680,132.6],[3701,124.0],[3722,115.3],[3741,123.5],[3760,129.1],[3779,122.0],[3798,125.7],[3820,120.5],[3842,129.8],[3864,121.5],[3886,127.0],[3906,119.5],[3926,129.8],[3945,123.0],[3965,132.6],[3988,121.0],[4011,126.4],[4032,130.5],[4054,122.2],[4077,127.0],[4101,129.8],[4121,121.5],[4141,131.2],[4165,119.5],[4189,125.7],[4213,129.5],[4238,121.5],[4256,126.0],[4275,112.5],[4293,123.0],[4312,129.8],[4333,122.0],[4355,133.3],[4377,120.5],[4400,125.0],[4419,119.5],[4438,128.4],[4463,124.0],[4489,120.1],[4511,127.0],[4534,131.2],[4557,121.0],[4581,125.7],[4607,129.0],[4634,116.7],[4657,121.5],[4680,127.0],[4707,120.5],[4735,131.2],[4759,125.0],[4783,122.2],[4810,127.5],[4838,131.9],[4859,122.0],[4880,115.3],[4901,123.5],[4922,128.4],[4950,120.0],[4979,125.7],[5008,120.5],[5037,129.8],[5062,123.5],[5088,118.1],[5114,124.5],[5140,128.4],[5170,121.0],[5200,125.7],[5229,119.5],[5259,133.6],[5282,121.0],[5305,106.3],[5328,121.5],[5351,125.7],[5378,130.0],[5405,118.7],[5436,124.5],[5468,129.8],[5496,121.0],[5524,103.5],[5556,122.5],[5588,125.7],[5616,120.5],[5644,130.5],[5677,124.0],[5710,121.5],[5739,127.0],[5768,129.1],[5801,120.0],[5834,102.1],[5859,121.5],[5885,127.0],[5915,120.5],[5945,123.6],[5975,128.5],[6005,131.2],[6040,122.0],[6075,118.7],[6106,124.5],[6137,127.0],[6167,119.0],[6197,122.2],[6234,127.5],[6272,129.8],[6307,121.5],[6343,117.4],[6374,122.0],[6406,126.4],[6438,120.0],[6471,129.1],[6508,121.0],[6546,102.8],[6578,120.5],[6611,125.7],[6650,120.0],[6690,128.4],[6723,121.5],[6757,118.1],[6796,123.5],[6836,127.0],[6875,119.5],[6914,123.6],[6949,119.0],[6985,128.4],[7021,121.0],[7058,125.0],[7099,120.5],[7140,117.4],[7176,122.5],[7212,125.7],[7253,119.0],[7294,131.2],[7331,119.5],[7368,109.1],[7411,120.5],[7454,127.0],[7497,118.0],[7540,105.6],[7578,119.5],[7616,126.4],[7654,120.5],[7692,129.1],[7738,121.0],[7784,118.7],[7828,123.0],[7872,125.7],[7911,118.0],[7951,100.7],[7991,119.5],[8032,127.0],[8079,121.0],[8127,129.1],[8173,120.0],[8219,105.6],[8262,119.0],[8305,125.7],[8346,120.0],[8388,127.0],[8425,121.0],[8463,117.4],[8505,123.0],[8548,125.7],[8590,120.5],[8633,109.4],[8684,121.0],[8735,125.7],[8785,119.0],[8836,126.4],[8887,121.0],[8938,117.4],[8996,122.0],[9054,125.7],[9118,119.5],[9183,124.3],[9230,118.5],[9278,122.9],[9330,118.5],[9385,121.5],[9440,119.0],[9494,117.4],[9590,120.1],[9727,118.1],[9941,116.3],[10233,114.6],[10532,112.5],[11025,111.3]];

const curves = [
  { data: kautz60, color: "#0000ff", smooth: true },
  { data: kautz100, color: "#008000", smooth: true },
  { data: kautz140, color: "#ff0000", smooth: true },
  { data: kautz180, color: "#00bfbf", smooth: true },
  { data: kautz220, color: "#bf00bf", smooth: true },
  { data: kautz260, color: "#bfbf00", smooth: true },
  { data: kautz300, color: "#404040", smooth: true },
  { data: kautz340, color: "#0000ff", smooth: true },
  { data: target, color: "#008000", smooth: false }
];

const yTicks = [-20, 0, 20, 40, 60, 80, 100, 120, 140, 160, 180];
const decadeTicks = [100, 1000, 10000];
const sideLabels = [["Pole", "angles"], ["Target", "resp."], ["340th", "order"], ["Kautz", "models"], ["60th", "order"]];

export default function App() {
  const ref = useRef(null);

  useEffect(() => {
    const svg = d3.select(ref.current);
    svg.selectAll("*").remove();

    const left = 149.5, right = 1521, top = 39, bottom = 1120.7;
    const font = "'Liberation Sans', Arial, Helvetica, sans-serif";

    const x = d3.scaleLog().domain([29.45, 11200]).range([left, right]);
    const y = d3.scaleLinear().domain([-32.25, 192.3]).range([bottom, top]);

    svg.append("rect").attr("width", 1661).attr("height", 1208).attr("fill", "#fff");

    svg.append("clipPath").attr("id", "plotclip")
      .append("rect")
      .attr("x", left).attr("y", top)
      .attr("width", right - left).attr("height", bottom - top);

    const plot = svg.append("g").attr("clip-path", "url(#plotclip)");

    // responses: coarse bins at the low end are drawn straight, the rest smoothed
    const straight = d3.line().x(d => x(d[0])).y(d => y(d[1]));
    const smooth = d3.line().curve(d3.curveMonotoneX).x(d => x(d[0])).y(d => y(d[1]));
    curves.forEach(c => {
      const parts = c.smooth
        ? [[c.data.filter(d => d[0] <= 103.3), straight], [c.data.filter(d => d[0] >= 97), smooth]]
        : [[c.data, straight]];
      parts.forEach(([pts, gen]) => {
        plot.append("path")
          .attr("d", gen(pts))
          .attr("fill", "none")
          .attr("stroke", c.color)
          .attr("stroke-width", 1.3)
          .attr("stroke-linejoin", "round");
      });
    });

    // pole angle marks
    poleRows.forEach((row, k) => {
      plot.append("g").selectAll("line")
        .data(row)
        .enter()
        .append("line")
        .attr("x1", d => x(d))
        .attr("x2", d => x(d))
        .attr("y1", y(150 + 5 * k))
        .attr("y2", y(154 + 5 * k))
        .attr("stroke", poleColors[k])
        .attr("stroke-width", 1.5);
    });

    // axes box and ticks
    const axes = svg.append("g").attr("stroke", "#000").attr("stroke-width", 1.5);
    axes.append("rect")
      .attr("x", left).attr("y", top)
      .attr("width", right - left).attr("height", bottom - top)
      .attr("fill", "none");

    x.ticks().forEach(t => {
      const len = decadeTicks.includes(t) ? 14 : 7;
      axes.append("line").attr("x1", x(t)).attr("x2", x(t)).attr("y1", bottom).attr("y2", bottom - len);
      axes.append("line").attr("x1", x(t)).attr("x2", x(t)).attr("y1", top).attr("y2", top + len);
    });
    yTicks.forEach(t => {
      axes.append("line").attr("x1", left).attr("x2", left + 14).attr("y1", y(t)).attr("y2", y(t));
      axes.append("line").attr("x1", right).attr("x2", right - 14).attr("y1", y(t)).attr("y2", y(t));
    });

    // tick labels
    svg.append("g").selectAll("text")
      .data(yTicks)
      .enter()
      .append("text")
      .attr("x", left - 11)
      .attr("y", d => y(d) + 10)
      .attr("text-anchor", "end")
      .attr("font-family", font)
      .attr("font-size", 29)
      .text(d => (d < 0 ? "\u2212" + Math.abs(d) : String(d)));

    decadeTicks.forEach(t => {
      const txt = svg.append("text")
        .attr("x", x(t))
        .attr("y", 1166)
        .attr("text-anchor", "middle")
        .attr("font-family", font)
        .attr("font-size", 29);
      txt.append("tspan").text("10");
      txt.append("tspan").attr("font-size", 21).attr("dy", -15).text(String(Math.log10(t)));
    });

    // axis labels
    svg.append("text")
      .attr("x", (left + right) / 2)
      .attr("y", 1212)
      .attr("text-anchor", "middle")
      .attr("font-family", font)
      .attr("font-size", 42)
      .text("Frequency / Hz");

    svg.append("text")
      .attr("transform", `translate(64, ${(top + bottom) / 2}) rotate(-90)`)
      .attr("text-anchor", "middle")
      .attr("font-family", font)
      .attr("font-size", 42)
      .text("Magnitude / dB (with offset)");

    // right-hand annotations
    const labelBase = [138, 389, 540, 794, 1059];
    sideLabels.forEach((lines, i) => {
      lines.forEach((s, j) => {
        svg.append("text")
          .attr("x", 1537)
          .attr("y", labelBase[i] + j * 47)
          .attr("font-family", font)
          .attr("font-size", 42)
          .text(s);
      });
    });
  }, []);

  return (
    <svg
      ref={ref}
      width={1661}
      height={1208}
      style={{ position: "absolute", left: 0, top: 0, display: "block" }}
    ></svg>
  );
}
